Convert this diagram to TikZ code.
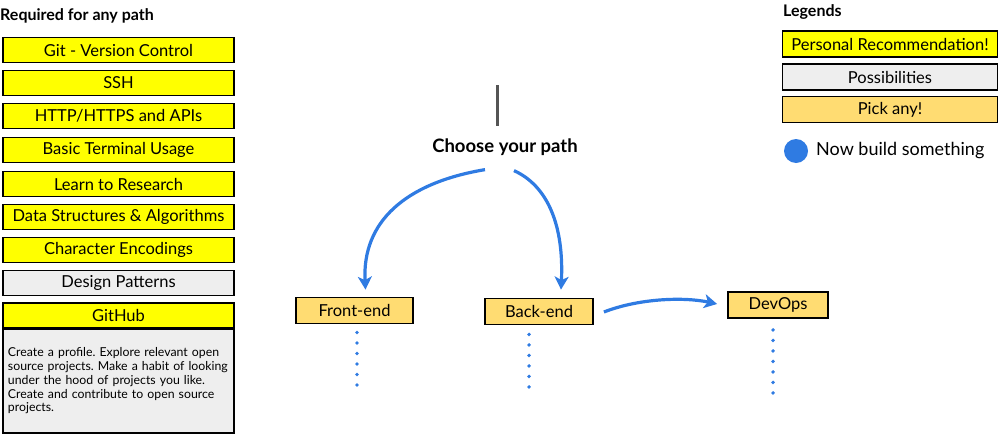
\documentclass[tikz,border=0pt]{standalone}
\usepackage{fontspec}
\setmainfont{Lato}
\usetikzlibrary{arrows.meta,calc}
\definecolor{yel}{HTML}{FFFF00}
\definecolor{gry}{HTML}{EEEEEE}
\definecolor{pick}{HTML}{FFDC72}
\definecolor{blu}{HTML}{2F7BE2}
\definecolor{stem}{HTML}{555555}
\tikzset{
  boxbase/.style={draw=black, line width=1.8pt, inner sep=0pt, font=\fontsize{16.5}{18}\selectfont},
  reqbox/.style={boxbase, fill=yel, minimum width=231pt, minimum height=25pt},
  posbox/.style={boxbase, fill=gry, minimum width=231pt, minimum height=25pt},
  legbox/.style={boxbase, minimum width=215pt, minimum height=26pt},
  pickbox/.style={boxbase, fill=pick, minimum height=26pt},
  flow/.style={draw=blu, line width=3.2pt, -{Stealth[length=13pt,width=14pt,inset=3.5pt]}},
  dots/.style={draw=blu, line width=3.8pt, line cap=round, dash pattern=on 0pt off 10.5pt},
  head/.style={inner sep=0pt, font=\bfseries\fontsize{16}{18}\selectfont}
}
\begin{document}
\frenchspacing
\begin{tikzpicture}[x=1pt,y=-1pt]
\useasboundingbox (0,0) rectangle (1000,434);
% left column
\node[head, anchor=west] (req) at (0,16) {Required for any path};
\node[reqbox] (git) at (118.5,50) {Git - Version Control};
\node[reqbox] (ssh) at (118.5,83) {SSH};
\node[reqbox] (http) at (118.5,116) {HTTP/HTTPS and APIs};
\node[reqbox] (term) at (118.5,150) {Basic Terminal Usage};
\node[reqbox] (res) at (118.5,184) {Learn to Research};
\node[reqbox] (dsa) at (118.5,217) {Data Structures \& Algorithms};
\node[reqbox] (enc) at (118.5,250) {Character Encodings};
\node[posbox] (dp) at (118.5,283) {Design Patterns};
\node[reqbox] (gh) at (118.5,315.5) {GitHub};
\node[boxbase, fill=gry, minimum width=231pt, minimum height=104pt, anchor=north,
      text width=221pt, align=left, font=\fontsize{12.3}{13.8}\selectfont] (ghd) at (118.5,328)
  {Create a profile. Explore relevant open\\ source projects. Make a habit of looking\\ under the hood of projects you like.\\ Create and contribute to open source\\ projects.};
% legend
\node[head, anchor=west] (leg) at (783,12) {Legends};
\node[legbox, fill=yel] (l1) at (890,44) {Personal Recommendation!};
\node[legbox, fill=gry] (l2) at (890,77) {Possibilities};
\node[legbox, fill=pick] (l3) at (890,109.5) {Pick any!};
\node[circle, fill=blu, minimum size=24pt, inner sep=0pt] (dot) at (796,151) {};
\node[anchor=west, inner sep=0pt, font=\fontsize{18}{20}\selectfont] (build) at (816,151) {Now build something};
% centre
\coordinate (top) at (497.5,85);
\node[head, font=\bfseries\fontsize{18.5}{20}\selectfont] (choose) at (505,147) {Choose your path};
\draw[stem, line width=2.5pt] (top) -- ($(choose.north)+(-7.5,-12)$);
\node[pickbox, minimum width=117pt] (front) at (354.5,310.5) {Front-end};
\node[pickbox, minimum width=108pt] (back) at (539,311.5) {Back-end};
\node[pickbox, minimum width=100pt] (devops) at (778,305) {DevOps};
\draw[flow] ($(choose.south)+(-20,14)$) .. controls (405,183) and (362,222) .. ($(front.north)+(11,-7)$);
\draw[flow] ($(choose.south)+(9,15)$) .. controls (548,186) and (564,226) .. ($(back.north)+(22,-8)$);
\draw[flow] ($(back.east)+(10,0.5)$) .. controls (640,298) and (685,297) .. ($(devops.west)+(-10,-1)$);
\draw[dots] ($(front.south)+(2.5,8)$) -- ++(0,57);
\draw[dots] ($(back.south)+(-10,9)$) -- ++(0,57);
\draw[dots] ($(devops.south)+(-5,11)$) -- ++(0,65);
\end{tikzpicture}
\end{document}
